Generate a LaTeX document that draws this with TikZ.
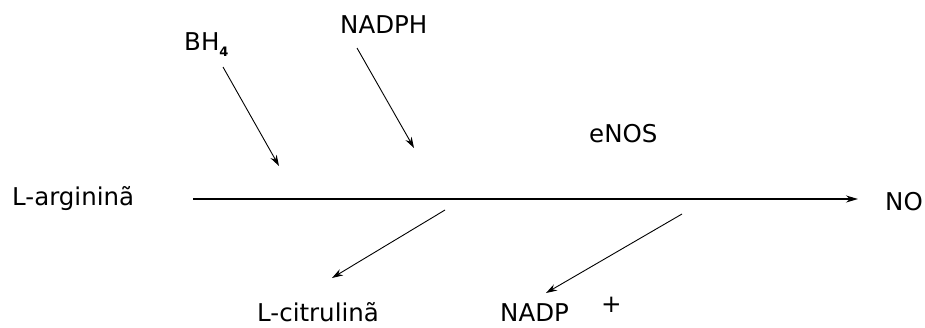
\documentclass[tikz,border=0pt]{standalone}
\usepackage{fontspec}
\setmainfont{DejaVu Sans}
\usetikzlibrary{arrows.meta}
\begin{document}
\begin{tikzpicture}[x=1pt,y=-1pt,
  lbl/.style={font=\fontsize{24.5}{25}\selectfont, inner sep=0pt, anchor=base west},
  arr/.style={line width=0.9pt, -{Stealth[length=11pt,width=7pt]}},
  mainarr/.style={line width=1.3pt, -{Stealth[length=12pt,width=7pt]}}]
\useasboundingbox (0,0) rectangle (925,327);
% labels
\node[lbl] (arg) at (12,205) {L-argininã};
\node[lbl] (bh) at (184,50) {BH\raisebox{-6pt}{\fontsize{13}{13}\selectfont\bfseries 4}};
\node[lbl] (nadph) at (340,33) {NADPH};
\node[lbl] (enos) at (589,142) {eNOS};
\node[lbl] (no) at (885,210) {NO};
\node[lbl, text depth=0pt] (cit) at (257,321) {L-citrulinã};
\node[lbl, text depth=0pt] (nadp) at (500,321) {NADP};
\node[lbl] (plus) at (601,312) {+};
% connector end points
\coordinate (m1) at (193,199);
\coordinate (m2) at (858,199);
\coordinate (b1) at (223,67);
\coordinate (b2) at (279,166);
\coordinate (n1) at (357,48);
\coordinate (n2) at (414,148);
\coordinate (c1) at (445,210);
\coordinate (c2) at (332,278);
\coordinate (p1) at (682,214);
\coordinate (p2) at (546,293);
% connectors
\draw[mainarr] (m1) -- (m2);
\draw[arr] (b1) -- (b2);
\draw[arr] (n1) -- (n2);
\draw[arr] (c1) -- (c2);
\draw[arr] (p1) -- (p2);
\end{tikzpicture}
\end{document}
